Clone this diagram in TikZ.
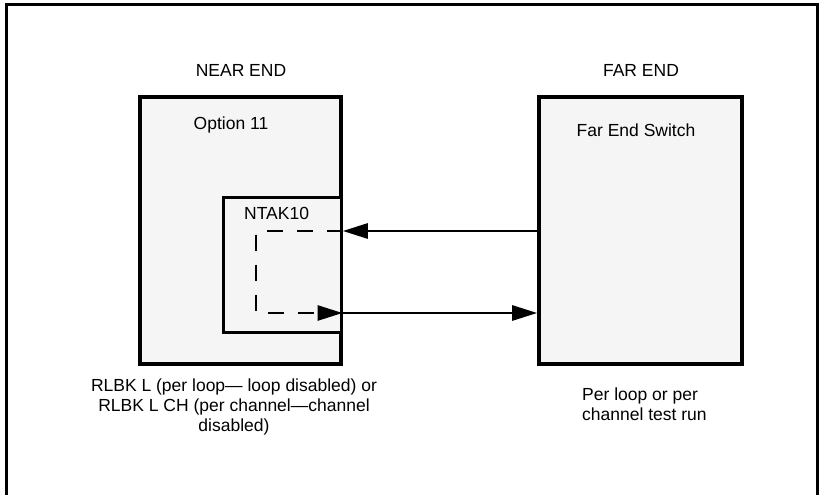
\documentclass[tikz,border=0pt]{standalone}
\usepackage{fontspec}
\setmainfont{Liberation Sans}
\usetikzlibrary{shapes,arrows.meta}
\definecolor{boxgray}{RGB}{245,245,245}
\tikzstyle{txt} = [font=\fontsize{17.5}{20}\selectfont, inner sep=0pt]
\tikzstyle{block} = [rectangle, draw, fill=boxgray, line width=3.6pt]
\tikzstyle{card} = [rectangle, draw, fill=boxgray, line width=3pt]
\tikzstyle{line} = [draw, line width=2.8pt, -{Triangle[length=25pt,width=15pt]}]
\tikzstyle{dline} = [line, dash pattern=on 16pt off 14pt, line join=miter]

\begin{document}
\begin{tikzpicture}[x=1pt,y=-1pt]
 \useasboundingbox (0,0) rectangle (820,495);
 \draw [line width=3pt] (6,500) -- (6,5) -- (817,5) -- (817,500);
 \node [txt] (NEL) at (241,70) {NEAR END};
 \node [txt] (FEL) at (641,70) {FAR END};
 \node [block, minimum width=201pt, minimum height=267pt] (NE) at (240.5,230.5) {};
 \node [card, minimum width=118pt, minimum height=135pt] (NT) at (282,264.5) {};
 \node [block, minimum width=203pt, minimum height=267pt] (FE) at (640.5,230.5) {};
 \node [txt] (OPT) at (231,125) {Option 11};
 \node [txt] (SW) at (636,130) {Far End Switch};
 \node [txt, anchor=west] (NTL) at (244,213) {NTAK10};
 \node [txt, align=center] (NEN) at (234,407) {RLBK L (per loop--- loop disabled) or\\RLBK L CH (per channel---channel\\disabled)};
 \node [txt, align=left, anchor=west] (FEN) at (582,404) {Per loop or per\\channel test run};
 \coordinate (TX) at (0,231);
 \coordinate (RX) at (0,313);
 \coordinate (LP) at (256,313);
 \path [line] (FE.west |- TX) -- (NE.east |- TX);
 \path [line] (NE.east |- RX) -- (FE.west |- RX);
 \path [dline] (NT.east |- TX) -| (LP) -- (NT.east |- RX);
\end{tikzpicture}
\end{document}
